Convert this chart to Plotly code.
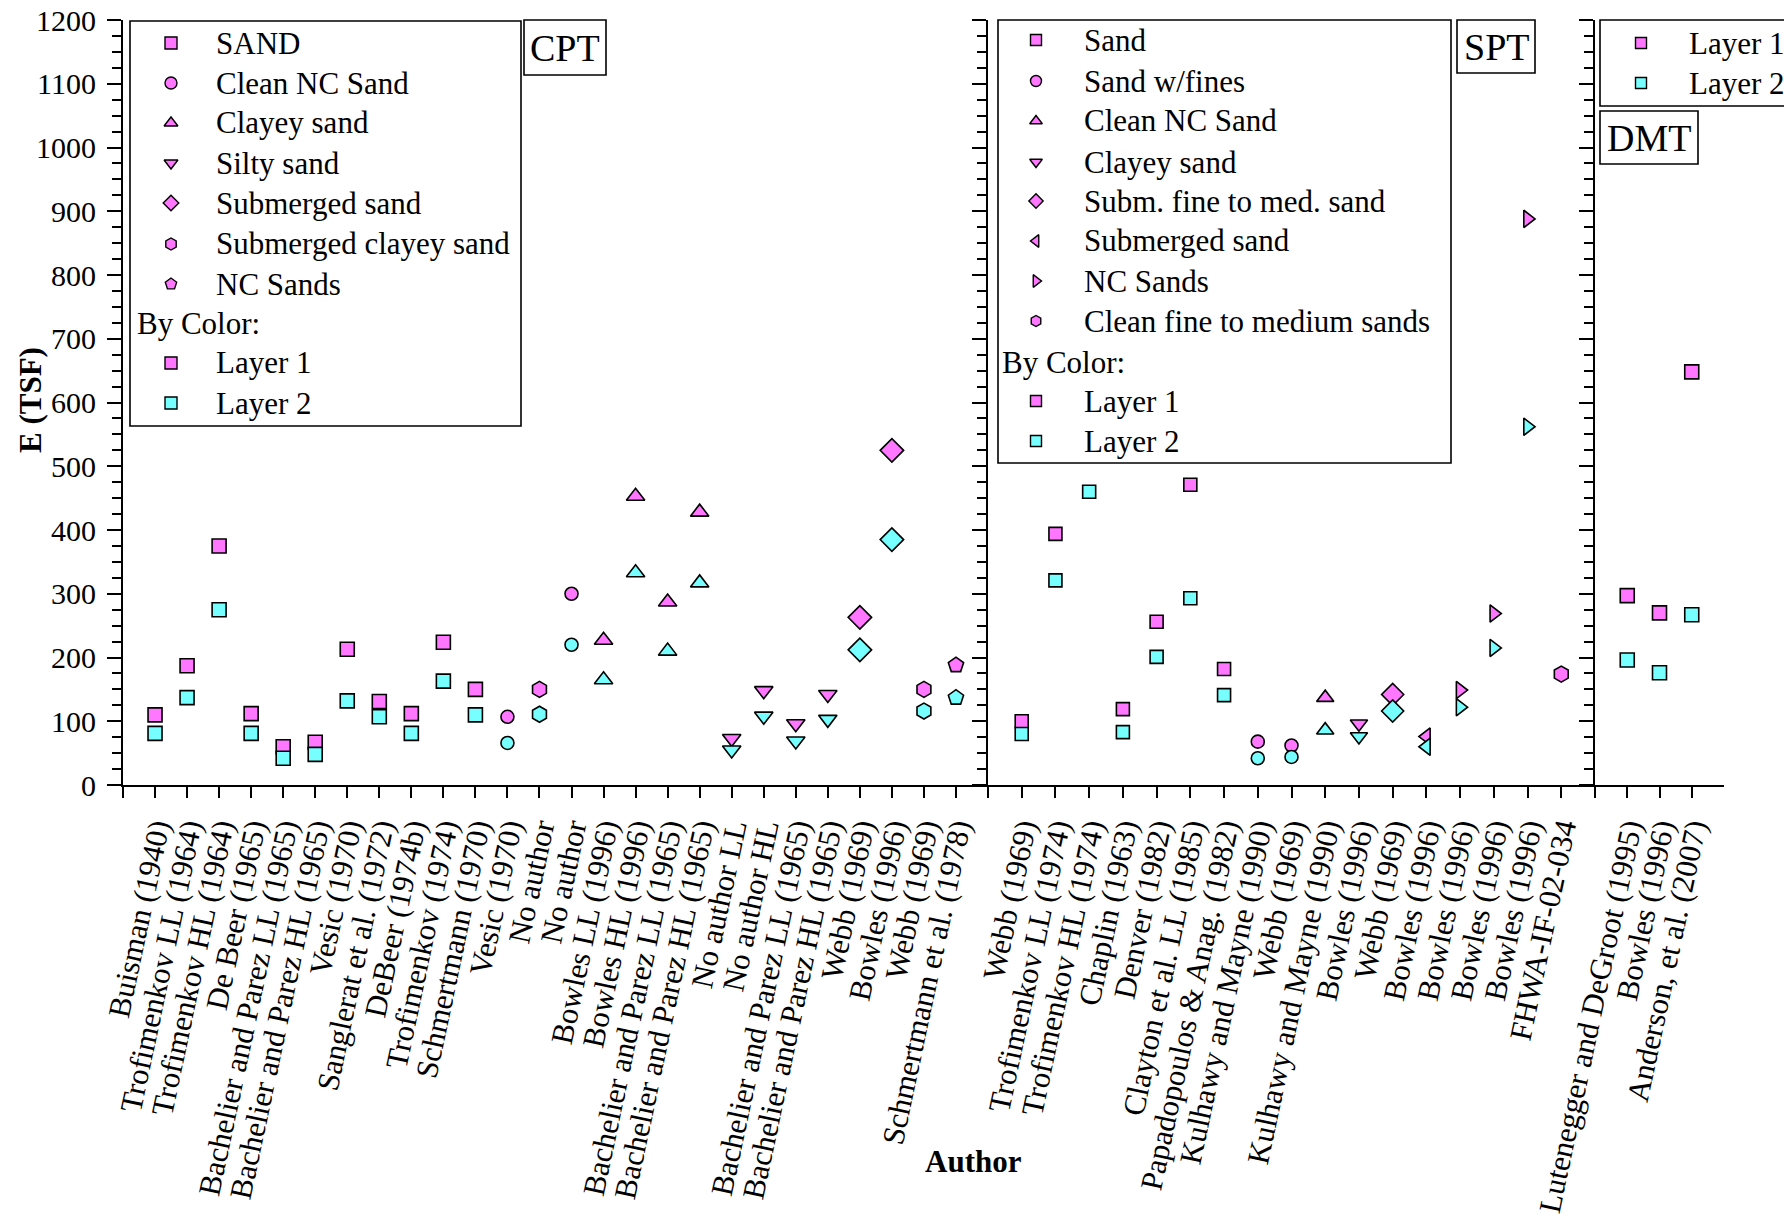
import plotly.graph_objects as go

# ---------------- data ----------------
cpt_labels = ["Buisman (1940)", "Trofimenkov LL (1964)", "Trofimenkov HL (1964)", "De Beer (1965)",
              "Bachelier and Parez LL (1965)", "Bachelier and Parez HL (1965)", "Vesic (1970)",
              "Sanglerat et al. (1972)", "DeBeer (1974b)", "Trofimenkov (1974)", "Schmertmann (1970)",
              "Vesic (1970)", "No author", "No author", "Bowles LL (1996)", "Bowles HL (1996)",
              "Bachelier and Parez LL (1965)", "Bachelier and Parez HL (1965)", "No author LL",
              "No author HL", "Bachelier and Parez LL (1965)", "Bachelier and Parez HL (1965)",
              "Webb (1969)", "Bowles (1996)", "Webb (1969)", "Schmertmann et al. (1978)"]
cpt_layer1 = [110, 187, 375, 112, 60, 67, 213, 131, 112, 224, 150, 107, 150, 300, 227, 453, 287, 428,
              73, 148, 96, 142, 263, 525, 150, 188]
cpt_layer2 = [81, 137, 275, 81, 42, 48, 132, 107, 81, 163, 110, 66, 111, 220, 165, 333, 210, 317,
              55, 108, 69, 103, 212, 385, 116, 137]
cpt_type = ["SAND"] * 11 + ["Clean NC Sand", "Submerged clayey sand", "Clean NC Sand"] + \
           ["Clayey sand"] * 4 + ["Silty sand"] * 4 + ["Submerged sand"] * 2 + \
           ["Submerged clayey sand", "NC Sands"]

spt_labels = ["Webb (1969)", "Trofimenkov LL (1974)", "Trofimenkov HL (1974)", "Chaplin (1963)",
              "Denver (1982)", "Clayton et al. LL (1985)", "Papadopoulos & Anag. (1982)",
              "Kulhawy and Mayne (1990)", "Webb (1969)", "Kulhawy and Mayne (1990)", "Bowles (1996)",
              "Webb (1969)", "Bowles (1996)", "Bowles (1996)", "Bowles (1996)", "Bowles (1996)",
              "FHWA-IF-02-034"]
spt_layer1 = [100, 394, None, 119, 256, 471, 182, 68, 62, 137, 96, 142, 76, 149, 269, 888, 174]
spt_layer2 = [80, 321, 460, 83, 201, 293, 141, 42, 44, 86, 76, 116, 60, 122, 215, 562, None]
spt_type = ["Sand"] * 7 + ["Sand w/fines"] * 2 + ["Clean NC Sand", "Clayey sand",
            "Subm. fine to med. sand", "Submerged sand"] + ["NC Sands"] * 3 + \
           ["Clean fine to medium sands"]

dmt_labels = ["Lutenegger and DeGroot (1995)", "Bowles (1996)", "Anderson, et al. (2007)"]
dmt_layer1 = [297, 270, 648]
dmt_layer2 = [196, 176, 267]
dmt_type = ["Layer"] * 3

# ---------------- styles ----------------
C1 = "#FF77FF"
C2 = "#77FFFF"
FONT = "Liberation Serif"

cpt_sym = {"SAND": ("square", 14), "Clean NC Sand": ("circle", 13), "Clayey sand": ("triangle-up", 16),
           "Silty sand": ("triangle-down", 16), "Submerged sand": ("diamond", 18),
           "Submerged clayey sand": ("hexagon", 16), "NC Sands": ("pentagon", 16)}
spt_sym = {"Sand": ("square", 13), "Sand w/fines": ("circle", 13), "Clean NC Sand": ("triangle-up", 15),
           "Clayey sand": ("triangle-down", 15), "Subm. fine to med. sand": ("diamond", 17),
           "Submerged sand": ("triangle-left", 15), "NC Sands": ("triangle-right", 15),
           "Clean fine to medium sands": ("hexagon", 16)}
dmt_sym = {"Layer": ("square", 14)}

W, H = 1784, 1221
L, R, T, B = 123, 60, 20, 436
PW, PH = W - L - R, H - T - B


def PX(x):
    return (x - L) / PW


def PY(y):
    return (T + PH - y) / PH


fig = go.Figure()

panels = [
    ("x", "y", cpt_labels, cpt_layer1, cpt_layer2, cpt_type, cpt_sym),
    ("x2", "y2", spt_labels, spt_layer1, spt_layer2, spt_type, spt_sym),
    ("x3", "y3", dmt_labels, dmt_layer1, dmt_layer2, dmt_type, dmt_sym),
]

for xa, ya, labels, v1, v2, types, symmap in panels:
    for vals, col in ((v1, C1), (v2, C2)):
        for t, (sym, size) in symmap.items():
            idx = [i for i, tt in enumerate(types) if tt == t and vals[i] is not None]
            if not idx:
                continue
            fig.add_trace(go.Scatter(
                x=idx, y=[vals[i] for i in idx], xaxis=xa, yaxis=ya, mode="markers",
                marker=dict(symbol=sym, size=size, color=col, line=dict(color="black", width=1.6)),
                showlegend=False, hoverinfo="skip", cliponaxis=False))

# ---------------- axes ----------------
d1 = PX(988)
d2 = PX(1595)
xcommon = dict(showline=True, linecolor="black", linewidth=2, ticks="outside", ticklen=11,
               tickwidth=1.6, tickcolor="black", showgrid=False, zeroline=False, tickangle=-78,
               tickfont=dict(family=FONT, size=31, color="black"), tickmode="array")
ycommon = dict(range=[0, 1200], showline=True, linecolor="black", linewidth=2, ticks="outside",
               ticklen=14, tickwidth=2, tickcolor="black", dtick=100, tick0=0, showgrid=False,
               zeroline=False,
               minor=dict(ticks="outside", ticklen=9, dtick=25, tickwidth=1.6, tickcolor="black",
                          showgrid=False))

layout_axes = {}
for k, (xa, ya, labels, *_rest) in enumerate(panels):
    n = len(labels)
    dom = [[0, d1], [d1, d2], [d2, 1]][k]
    xname = "xaxis" if k == 0 else f"xaxis{k + 1}"
    yname = "yaxis" if k == 0 else f"yaxis{k + 1}"
    layout_axes[xname] = dict(xcommon, domain=dom, range=[-1, n], anchor=ya,
                              tickvals=list(range(-1, n)), ticktext=[""] + labels)
    yd = dict(ycommon, anchor=xa, domain=[0, 1])
    if k == 0:
        yd["tickfont"] = dict(family=FONT, size=30, color="black")
        yd["ticklabelstandoff"] = 5
    else:
        yd["showticklabels"] = False
    layout_axes[yname] = yd

# overlay axes in pixel units for legend symbols
layout_axes["xaxis4"] = dict(domain=[0, 1], range=[L, W - R], anchor="y4", visible=False)
layout_axes["yaxis4"] = dict(domain=[0, 1], range=[T + PH, T], anchor="x4", visible=False)

# ---------------- legends ----------------
shapes = []
annotations = []


def box(x0, y0, x1, y1):
    shapes.append(dict(type="rect", xref="paper", yref="paper", x0=PX(x0), x1=PX(x1),
                       y0=PY(y0), y1=PY(y1), line=dict(color="black", width=1.6),
                       fillcolor="white", layer="below"))


def text(x, y, s, size=31, anchor="left", bold=False):
    annotations.append(dict(x=PX(x), y=PY(y), xref="paper", yref="paper", text=s, showarrow=False,
                            xanchor=anchor, yanchor="middle",
                            font=dict(family=FONT, size=size, color="black",
                                      weight="bold" if bold else "normal")))


def legend(mx, tx, bx, rows, entries, msize):
    xs, ys, syms, cols = [], [], [], []
    for y, e in zip(rows, entries):
        if e[0] == "By Color:":
            text(bx, y, "By Color:")
            continue
        label, sym, col = e
        xs.append(mx)
        ys.append(y)
        syms.append(sym)
        cols.append(col)
        text(tx, y, label)
    fig.add_trace(go.Scatter(x=xs, y=ys, xaxis="x4", yaxis="y4", mode="markers",
                             marker=dict(symbol=syms, size=msize, color=cols,
                                         line=dict(color="black", width=1.4)),
                             showlegend=False, hoverinfo="skip", cliponaxis=False))


# CPT legend
box(130, 21, 521, 426)
cpt_leg = [(t, cpt_sym[t][0], C1) for t in cpt_sym] + [("By Color:",),
           ("Layer 1", "square", C1), ("Layer 2", "square", C2)]
legend(171, 214, 135, [43, 83, 123, 163, 203, 244, 284, 323, 363, 403], cpt_leg, 12)

# SPT legend
box(998, 20, 1451, 463)
spt_leg = [(t, spt_sym[t][0], C1) for t in spt_sym] + [("By Color:",),
           ("Layer 1", "square", C1), ("Layer 2", "square", C2)]
legend(1036, 1082, 1000, [40, 81, 121, 162, 201, 241, 281, 321, 362, 401, 441], spt_leg, 11)

# DMT legend
box(1600, 20, 1800, 106)
legend(1641, 1687, 1600, [43, 83], [("Layer 1", "square", C1), ("Layer 2", "square", C2)], 11)

# panel labels
box(524, 20, 606, 75)
text(565, 48, "CPT", size=38, anchor="center")
box(1457, 20, 1535, 73)
text(1496, 47, "SPT", size=38, anchor="center")
box(1600, 111, 1698, 164)
text(1649, 138, "DMT", size=38, anchor="center")

# axis titles
annotations.append(dict(x=PX(30), y=PY(400), xref="paper", yref="paper", text="E (TSF)",
                        showarrow=False, textangle=-90, xanchor="center", yanchor="middle",
                        font=dict(family=FONT, size=31, color="black", weight="bold")))
annotations.append(dict(x=PX(973), y=PY(1161), xref="paper", yref="paper", text="Author",
                        showarrow=False, xanchor="center", yanchor="middle",
                        font=dict(family=FONT, size=31, color="black", weight="bold")))

fig.update_layout(
    width=W, height=H,
    margin=dict(l=L, r=R, t=T, b=B, autoexpand=False),
    paper_bgcolor="white", plot_bgcolor="rgba(0,0,0,0)",
    showlegend=False, shapes=shapes, annotations=annotations,
    font=dict(family=FONT, color="black"),
    **layout_axes,
)

fig.write_html("out.html")
